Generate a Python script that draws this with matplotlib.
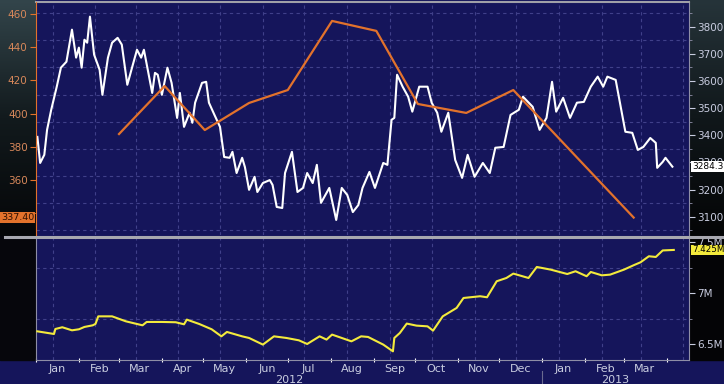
import numpy as np
import pandas as pd
import matplotlib
matplotlib.use("Agg")
import matplotlib.pyplot as plt
import matplotlib.dates as mdates
import matplotlib.transforms as mtransforms
from matplotlib.colors import LinearSegmentedColormap
from matplotlib.ticker import FixedLocator, NullFormatter, FuncFormatter

# index level (right axis, white)
white_dates = [
    "2012-01-02", "2012-01-04", "2012-01-07", "2012-01-09", "2012-01-12", "2012-01-16",
    "2012-01-19", "2012-01-23", "2012-01-27", "2012-01-30", "2012-02-01", "2012-02-03",
    "2012-02-05", "2012-02-07", "2012-02-09", "2012-02-12", "2012-02-16", "2012-02-18",
    "2012-02-22", "2012-02-25", "2012-02-29", "2012-03-03", "2012-03-07", "2012-03-11",
    "2012-03-14", "2012-03-17", "2012-03-19", "2012-03-25", "2012-03-27", "2012-03-29",
    "2012-04-01", "2012-04-05", "2012-04-08", "2012-04-12", "2012-04-14", "2012-04-17",
    "2012-04-21", "2012-04-23", "2012-04-25", "2012-04-30", "2012-05-03", "2012-05-05",
    "2012-05-09", "2012-05-13", "2012-05-16", "2012-05-20", "2012-05-22", "2012-05-25",
    "2012-05-29", "2012-05-31", "2012-06-03", "2012-06-07", "2012-06-09", "2012-06-13",
    "2012-06-18", "2012-06-20", "2012-06-23", "2012-06-27", "2012-06-29", "2012-07-04",
    "2012-07-08", "2012-07-12", "2012-07-15", "2012-07-19", "2012-07-22", "2012-07-25",
    "2012-07-31", "2012-08-05", "2012-08-09", "2012-08-13", "2012-08-17", "2012-08-21",
    "2012-08-24", "2012-08-29", "2012-09-02", "2012-09-08", "2012-09-11", "2012-09-14",
    "2012-09-16", "2012-09-18", "2012-09-22", "2012-09-26", "2012-09-29", "2012-10-04",
    "2012-10-10", "2012-10-13", "2012-10-17", "2012-10-20", "2012-10-25", "2012-10-30",
    "2012-11-04", "2012-11-08", "2012-11-13", "2012-11-19", "2012-11-24", "2012-11-28",
    "2012-12-04", "2012-12-09", "2012-12-15", "2012-12-18", "2012-12-25", "2012-12-30",
    "2013-01-04", "2013-01-08", "2013-01-11", "2013-01-16", "2013-01-21", "2013-01-26",
    "2013-01-31", "2013-02-05", "2013-02-10", "2013-02-14", "2013-02-17", "2013-02-23",
    "2013-03-02", "2013-03-07", "2013-03-11", "2013-03-15", "2013-03-20", "2013-03-24",
    "2013-03-25", "2013-03-29", "2013-03-31", "2013-04-05",
]
white_vals = [
    3394, 3298, 3328, 3420, 3494, 3579,
    3649, 3671, 3789, 3686, 3723, 3649,
    3752, 3741, 3837, 3697, 3641, 3549,
    3686, 3741, 3759, 3734, 3586, 3660,
    3715, 3686, 3715, 3556, 3630, 3623,
    3549, 3649, 3593, 3464, 3556, 3431,
    3483, 3446, 3520, 3593, 3597, 3520,
    3475, 3431, 3320, 3317, 3339, 3261,
    3317, 3283, 3199, 3247, 3191, 3224,
    3235, 3217, 3136, 3132, 3261, 3339,
    3191, 3206, 3261, 3224, 3291, 3151,
    3206, 3088, 3206, 3180, 3117, 3143,
    3206, 3265, 3206, 3298, 3291, 3457,
    3464, 3623, 3579, 3542, 3487, 3579,
    3579, 3520, 3483, 3413, 3483, 3309,
    3243, 3328, 3247, 3298, 3261, 3354,
    3357, 3475, 3494, 3542, 3505, 3420,
    3464, 3597, 3487, 3538, 3464, 3520,
    3523, 3579, 3616, 3579, 3616, 3604,
    3413, 3409, 3346, 3357, 3390, 3372,
    3280, 3302, 3317, 3284.3,
]

# monthly series (left axis, orange)
orange_dates = ["2012-03-01", "2012-04-03", "2012-05-02", "2012-06-03", "2012-07-01",
                "2012-08-02", "2012-09-03", "2012-10-03", "2012-11-07", "2012-12-11",
                "2013-03-08"]
orange_vals = [387.7, 416.6, 390.1, 406.4, 414.2, 455.8, 449.8, 405.8, 400.4, 414.2, 337.4]

# lower panel (millions, yellow)
yellow_dates = [
    "2012-01-02", "2012-01-14", "2012-01-15", "2012-01-20", "2012-01-27", "2012-02-01",
    "2012-02-05", "2012-02-11", "2012-02-13", "2012-02-15", "2012-02-25", "2012-03-06",
    "2012-03-18", "2012-03-21", "2012-04-01", "2012-04-11", "2012-04-17", "2012-04-19",
    "2012-04-28", "2012-05-07", "2012-05-14", "2012-05-18", "2012-05-29", "2012-06-03",
    "2012-06-11", "2012-06-13", "2012-06-21", "2012-06-30", "2012-07-09", "2012-07-15",
    "2012-07-24", "2012-07-29", "2012-08-02", "2012-08-16", "2012-08-23", "2012-08-28",
    "2012-09-08", "2012-09-15", "2012-09-16", "2012-09-20", "2012-09-25", "2012-10-02",
    "2012-10-10", "2012-10-14", "2012-10-21", "2012-10-31", "2012-11-05", "2012-11-17",
    "2012-11-22", "2012-11-29", "2012-12-06", "2012-12-11", "2012-12-22", "2012-12-28",
    "2013-01-07", "2013-01-19", "2013-01-25", "2013-02-02", "2013-02-05", "2013-02-13",
    "2013-02-19", "2013-03-01", "2013-03-08", "2013-03-13", "2013-03-19", "2013-03-24",
    "2013-03-29", "2013-04-06",
]
yellow_vals = [
    6.627, 6.601, 6.650, 6.667, 6.637, 6.647,
    6.670, 6.686, 6.700, 6.774, 6.774, 6.725,
    6.686, 6.719, 6.719, 6.716, 6.696, 6.742,
    6.699, 6.647, 6.578, 6.621, 6.578, 6.562,
    6.510, 6.497, 6.578, 6.562, 6.539, 6.503,
    6.578, 6.546, 6.595, 6.529, 6.578, 6.572,
    6.497, 6.431, 6.562, 6.611, 6.703, 6.683,
    6.676, 6.634, 6.774, 6.856, 6.954, 6.971,
    6.961, 7.118, 7.150, 7.193, 7.150, 7.258,
    7.232, 7.189, 7.216, 7.167, 7.209, 7.176,
    7.183, 7.232, 7.275, 7.304, 7.363, 7.356,
    7.420, 7.425,
]

month_labels = pd.date_range("2012-01-01", "2013-03-01", freq="MS") + pd.Timedelta(days=15)

NAVY = "#15155b"
ORANGE = "#e2722c"
YELLOW = "#f3ea3c"
GRID = "#40408a"
TXT = "#c9cde0"
SPINE = "#8e8ea6"

plt.rcParams["font.family"] = ["Liberation Sans Narrow", "DejaVu Sans"]

W, H = 724, 384


def box(x0, y0, x1, y1):
    return [x0 / W, 1 - y1 / H, (x1 - x0) / W, (y1 - y0) / H]


fig = plt.figure(figsize=(7.24, 3.84), dpi=100)
fig.patch.set_facecolor(NAVY)

# side margins: dark gradient behind the axis labels
bg = fig.add_axes([0, 0, 1, 1], zorder=-10)
grad = np.linspace(0, 1, 256).reshape(-1, 1)
cm_l = LinearSegmentedColormap.from_list("gl", ["#33454b", "#121a1d", "#050608"])
cm_r = LinearSegmentedColormap.from_list("gr", ["#26343a", "#10171a", "#040506"])
bg.imshow(grad, cmap=cm_l, extent=(0, 36, 236, 0), aspect="auto")
bg.imshow(grad, cmap=cm_r, extent=(689, 724, 236, 0), aspect="auto")
bg.add_patch(plt.Rectangle((0, 236), 36, 124, color="#06060c"))
bg.add_patch(plt.Rectangle((689, 236), 35, 124, color="#040406"))
bg.set_xlim(0, W)
bg.set_ylim(H, 0)
bg.axis("off")

xmin, xmax = pd.Timestamp("2012-01-01"), pd.Timestamp("2013-04-17")
grid_dates = pd.date_range("2012-01-01", "2013-04-01", freq="MS") + pd.Timedelta(days=12)
boxtf = lambda ax: mtransforms.blended_transform_factory(ax.transAxes, ax.transData)

# ---------- top panel ----------
ax1 = fig.add_axes(box(36, 2, 689, 235))
ax1.set_facecolor(NAVY)
ax1.plot(pd.to_datetime(white_dates), white_vals, color="white", lw=1.5, zorder=3)
ax1.set_ylim(3032.6, 3891)
ax1.set_xlim(xmin, xmax)
ax1.tick_params(axis="x", which="both", bottom=False, labelbottom=False)
for d in grid_dates:
    ax1.axvline(d, color=GRID, ls=(0, (3, 3)), lw=0.8, zorder=0)

ax1o = ax1.twinx()
ax1o.plot(pd.to_datetime(orange_dates), orange_vals, color=ORANGE, lw=1.6, zorder=4)
ax1o.set_ylim(326.9, 467.2)
ax1o.yaxis.tick_left()
ax1o.yaxis.set_major_locator(FixedLocator(np.arange(360, 470, 20)))
ax1o.yaxis.set_minor_locator(FixedLocator([340]))
ax1o.tick_params(axis="y", which="both", colors=ORANGE, labelsize=7.5, length=4, pad=2)
ax1o.tick_params(axis="y", labelcolor="#d8885a")
for s in ["right", "top", "bottom"]:
    ax1o.spines[s].set_visible(False)
ax1o.spines["left"].set_color(ORANGE)

# host y axis back on the right (twinx moves it left)
ax1.yaxis.tick_right()
ax1.yaxis.set_major_locator(FixedLocator(np.arange(3100, 3900, 100)))
ax1.yaxis.set_minor_locator(FixedLocator(np.arange(3050, 3900, 100)))
ax1.tick_params(axis="y", which="major", colors=TXT, labelsize=7.5, length=4, pad=2)
ax1.tick_params(axis="y", which="minor", colors=SPINE, length=2)
ax1.grid(axis="y", which="minor", color=GRID, ls=(0, (3, 3)), lw=0.8)
for s in ["left", "bottom"]:
    ax1.spines[s].set_visible(False)
ax1.spines["right"].set_color(SPINE)
ax1.spines["top"].set_color("#a0a0a8")
ax1.spines["top"].set_linewidth(1.5)

ax1o.text(-0.003, orange_vals[-1], f"{orange_vals[-1]:.2f}", fontsize=6.8,
          color="#301000", ha="right", va="center", clip_on=False, zorder=10,
          transform=boxtf(ax1o),
          bbox=dict(boxstyle="square,pad=0.12", fc=ORANGE, ec="none"))
ax1.text(1.005, white_vals[-1], f"{white_vals[-1]:.1f}", fontsize=6.5,
         color="black", ha="left", va="center", clip_on=False, zorder=10,
         transform=boxtf(ax1),
         bbox=dict(boxstyle="square,pad=0.1", fc="white", ec="none"))

# ---------- bottom panel ----------
ax2 = fig.add_axes(box(36, 238, 689, 360), sharex=ax1)
ax2.set_facecolor(NAVY)
ax2.plot(pd.to_datetime(yellow_dates), yellow_vals, color=YELLOW, lw=1.5, zorder=3)
ax2.set_ylim(6.346, 7.542)
ax2.yaxis.tick_right()
ax2.yaxis.set_major_locator(FixedLocator([6.5, 7.0, 7.5]))
ax2.yaxis.set_minor_locator(FixedLocator([6.75, 7.25]))
ax2.yaxis.set_major_formatter(FuncFormatter(lambda v, p: f"{v:g}M"))
ax2.tick_params(axis="y", which="major", colors=TXT, labelsize=7.5, length=4, pad=2)
ax2.tick_params(axis="y", which="minor", colors=SPINE, length=2)
ax2.grid(axis="y", which="minor", color=GRID, ls=(0, (3, 3)), lw=0.8)
for d in grid_dates:
    ax2.axvline(d, color=GRID, ls=(0, (3, 3)), lw=0.8, zorder=0)

ax2.xaxis.set_major_locator(mdates.MonthLocator())
ax2.xaxis.set_major_formatter(NullFormatter())
ax2.xaxis.set_minor_locator(FixedLocator(mdates.date2num(month_labels)))
ax2.xaxis.set_minor_formatter(mdates.DateFormatter("%b"))
ax2.tick_params(axis="x", which="major", colors="white", length=3, direction="inout")
ax2.tick_params(axis="x", which="minor", colors=TXT, length=0, labelsize=8, pad=3)
ax2.set_xlim(xmin, xmax)
ax2.spines["top"].set_visible(False)
for s in ["left", "right", "bottom"]:
    ax2.spines[s].set_color(SPINE)

bt = mtransforms.blended_transform_factory(ax2.transData, ax2.transAxes)
jan13 = pd.Timestamp("2013-01-01")
y2012 = pd.Timestamp("2012-01-01") + (jan13 - pd.Timestamp("2012-01-01")) / 2
y2013 = jan13 + (xmax - jan13) / 2
ax2.text(y2012, -0.165, "2012", transform=bt, ha="center", va="center",
         fontsize=8, color=TXT, clip_on=False)
ax2.text(y2013, -0.165, "2013", transform=bt, ha="center", va="center",
         fontsize=8, color=TXT, clip_on=False)
ax2.plot([jan13, jan13], [-0.09, -0.22], transform=bt,
         color="#6a6a90", lw=0.8, clip_on=False)

ax2.text(1.005, yellow_vals[-1], f"{yellow_vals[-1]:.3f}M", fontsize=6.3,
         color="black", ha="left", va="center", clip_on=False, zorder=10,
         transform=boxtf(ax2),
         bbox=dict(boxstyle="square,pad=0.1", fc=YELLOW, ec="none"))

# grey divider between panels
fig.add_artist(plt.Line2D([5 / W, 1], [1 - 236.5 / H] * 2, color="#a8a8b0", lw=2.2))

fig.savefig("out.png", dpi=100, facecolor=NAVY)
